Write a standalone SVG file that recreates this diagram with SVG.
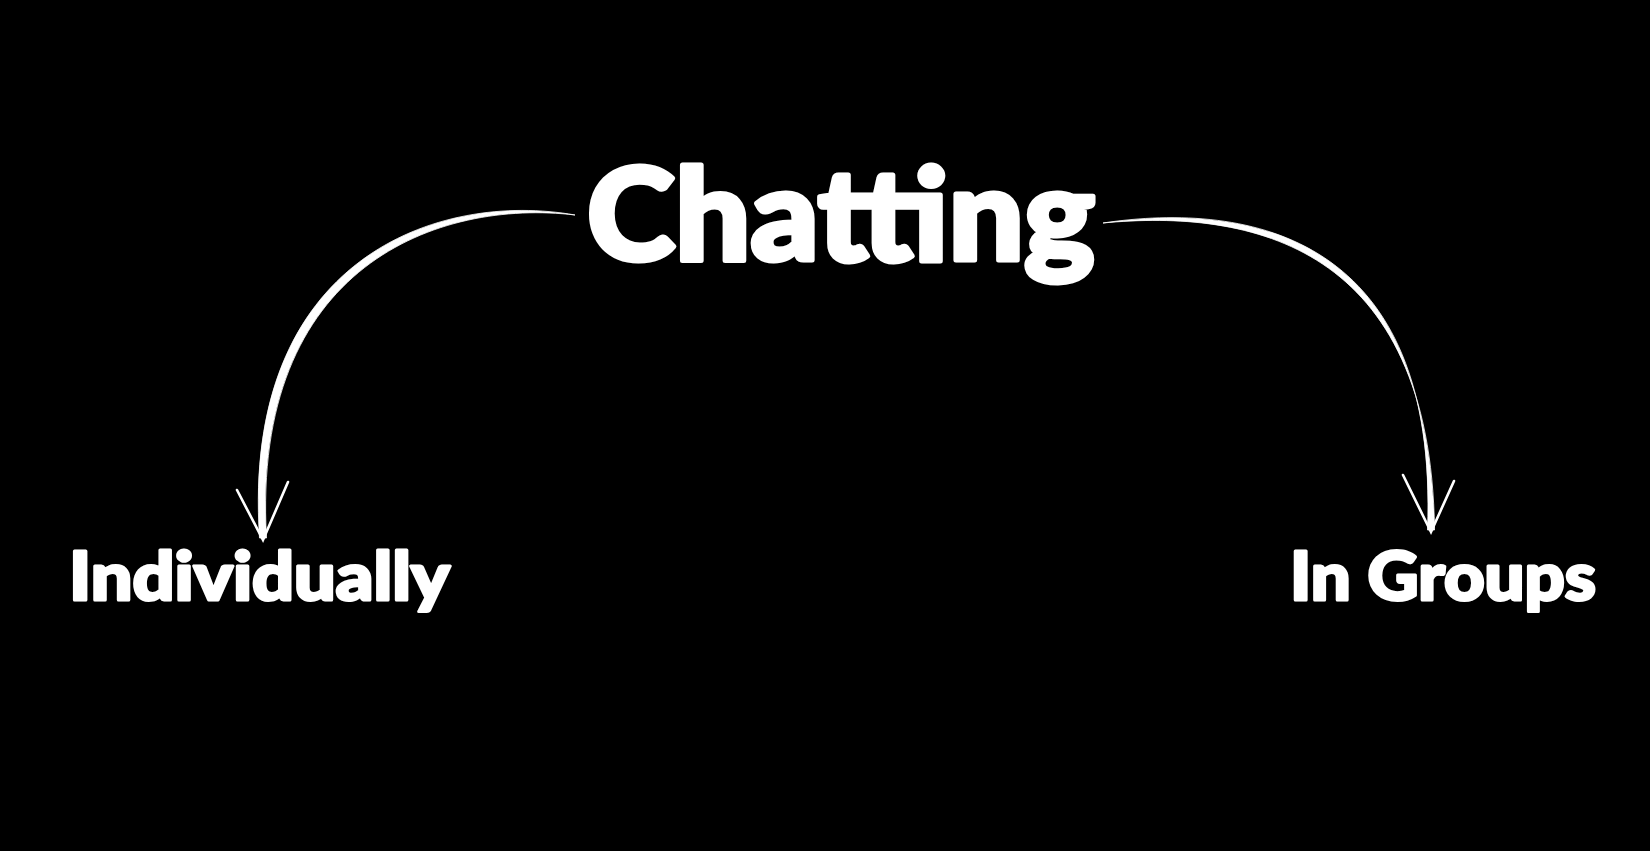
<svg xmlns="http://www.w3.org/2000/svg" width="1650" height="851" viewBox="0 0 1650 851">
<style>
.lbl{font-family:Lato,"Open Sans","Liberation Sans",sans-serif;font-weight:900;fill:#fff;stroke:#fff;stroke-linejoin:round;}
.body{fill:#fff;stroke:#fff;stroke-width:0.8;stroke-linejoin:round;}
.head{fill:none;stroke:#fff;stroke-width:2.6;stroke-linecap:round;stroke-linejoin:miter;}
</style>
<rect width="1650" height="851" fill="#000"/>
<g id="node-chatting"><text class="lbl" x="587" y="260" font-size="127" stroke-width="5" textLength="508" lengthAdjust="spacingAndGlyphs">Chatting</text></g>
<g id="node-individually"><text class="lbl" x="69" y="600" font-size="67" stroke-width="3" textLength="381" lengthAdjust="spacingAndGlyphs">Individually</text></g>
<g id="node-ingroups"><text class="lbl" x="1290" y="600" font-size="67" stroke-width="3" textLength="306" lengthAdjust="spacingAndGlyphs">In Groups</text></g>
<g id="connectors">
<path class="body" d="M575,215 C440,191 241,256 259.5,538 L266.5,538 C251,264 440,199 575,215 Z"/>
<path class="head" d="M237,490 L263,540 L288,482"/>
<path class="body" d="M1103,223 C1250,201 1439,236 1427.5,530 L1434.5,530 C1431,244 1250,209 1103,223 Z"/>
<path class="head" d="M1403,475 L1431,532 L1454,481"/>
</g>
</svg>
